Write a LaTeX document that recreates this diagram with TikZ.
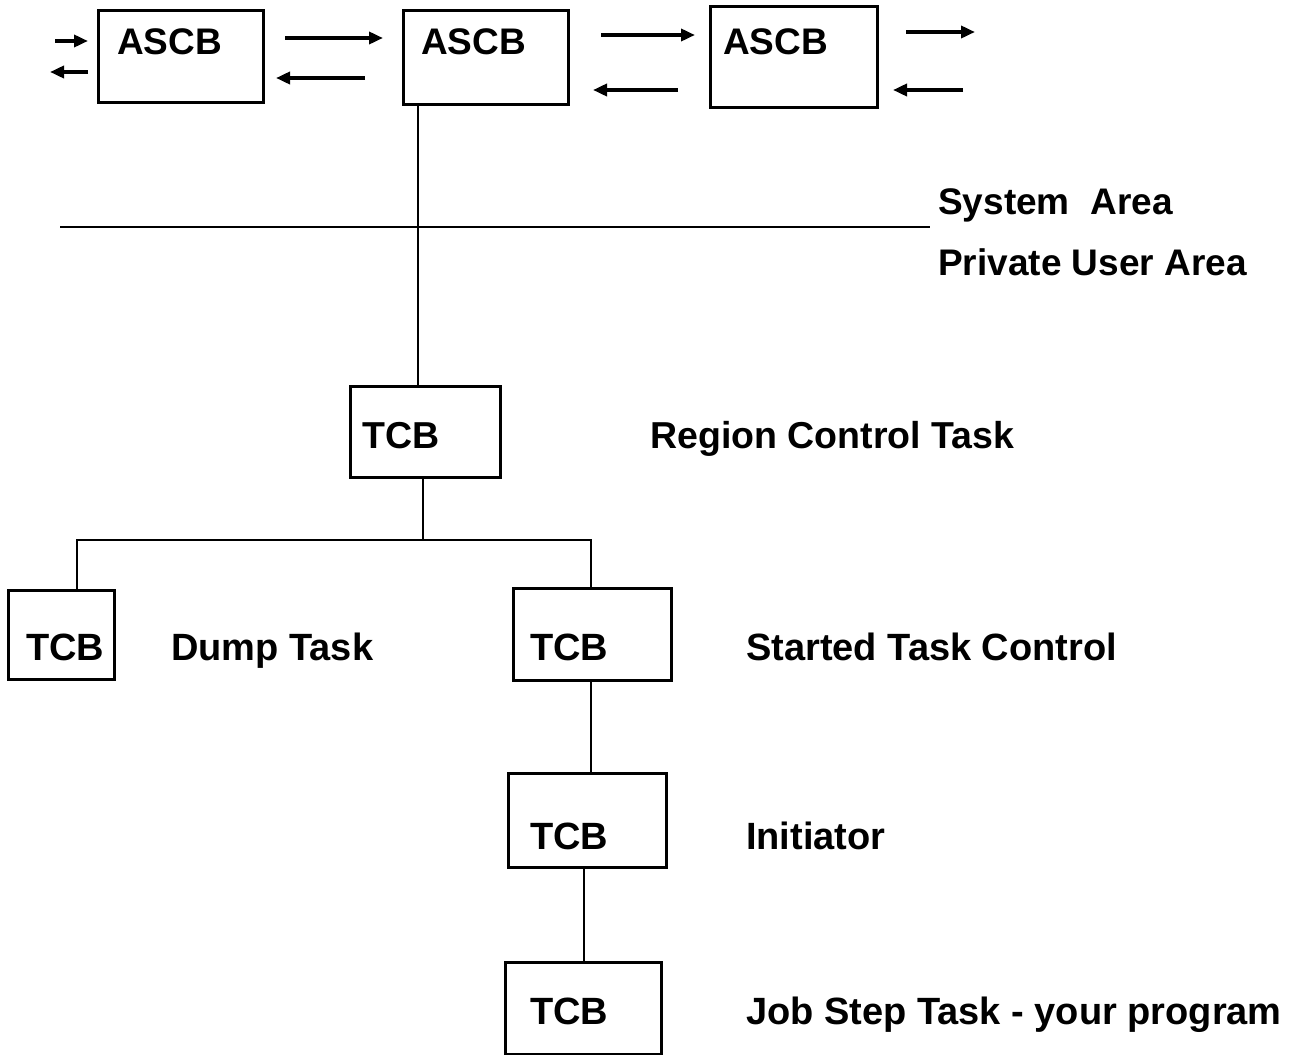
\documentclass[tikz,border=0pt]{standalone}
\usepackage{fontspec}
\setmainfont{Liberation Sans}
\usetikzlibrary{arrows.meta}
\tikzset{
  x=1pt, y=-1pt,
  box/.style={draw, line width=3pt, inner sep=0pt},
  lbl/.style={inner sep=0pt, anchor=base west, font=\fontsize{37}{40}\selectfont\bfseries},
  lblb/.style={lbl, font=\fontsize{38}{41}\selectfont\bfseries},
  conn/.style={line width=2pt},
  arr/.style={line width=3.6pt, -{Triangle[length=14pt, width=12pt]}},
}
\begin{document}
\begin{tikzpicture}
\useasboundingbox (0,0) rectangle (1299,1055);
% boxes
\node[box, minimum width=165, minimum height=92] (a1) at (180.5,56) {};
\node[box, minimum width=165, minimum height=94] (a2) at (485.5,57) {};
\node[box, minimum width=167, minimum height=101] (a3) at (793.5,56.5) {};
\node[box, minimum width=150, minimum height=91] (r) at (425,431.5) {};
\node[box, minimum width=106, minimum height=89] (d) at (61,634.5) {};
\node[box, minimum width=158, minimum height=92] (s) at (592,634) {};
\node[box, minimum width=158, minimum height=94] (i) at (587,820) {};
\node[box, minimum width=156, minimum height=92] (j) at (583,1008) {};
% labels
\node[lbl] (ta1) at (117,54) {ASCB};
\node[lbl] (ta2) at (421,54) {ASCB};
\node[lbl] (ta3) at (723,54) {ASCB};
\node[lbl] (sys) at (938,214) {System\ \ Area};
\node[lbl] (pua) at (938,275) {Private User Area};
\node[lbl, font=\fontsize{37.5}{40}\selectfont\bfseries] (tr) at (362,448) {TCB};
\node[lbl, font=\fontsize{37.5}{40}\selectfont\bfseries] (rct) at (650,448) {Region Control Task};
\node[lblb] (td) at (26,660) {TCB};
\node[lblb] (dt) at (171,660) {Dump Task};
\node[lblb] (ts) at (530,660) {TCB};
\node[lblb] (stc) at (746,660) {Started Task Control};
\node[lblb] (ti) at (530,849) {TCB};
\node[lblb] (ini) at (746,849) {Initiator};
\node[lblb] (tj) at (530,1024) {TCB};
\node[lblb] (jst) at (746,1024) {Job Step Task - your program};
% coordinates
\coordinate (v1) at (418,0);
\coordinate (v2) at (423,0);
\coordinate (bus) at (0,540);
\coordinate (bl) at (77,540);
\coordinate (br) at (591,540);
\coordinate (v3) at (591,0);
\coordinate (v4) at (584,0);
\coordinate (hl) at (60,227);
\coordinate (hr) at (930,227);
% connectors
\draw[conn] (hl) -- (hr);
\draw[conn] (a2.south -| v1) -- (r.north -| v1);
\draw[conn] (r.south -| v2) -- (bus -| v2);
\draw[conn] (d.north -| bl) -- (bl) -- (br) -- (s.north -| br);
\draw[conn] (s.south -| v3) -- (i.north -| v3);
\draw[conn] (i.south -| v4) -- (j.north -| v4);
% arrows
\coordinate (p1) at (55,41);  \coordinate (q1) at (88,41);
\coordinate (p2) at (88,72);  \coordinate (q2) at (50,72);
\coordinate (p3) at (285,38); \coordinate (q3) at (383,38);
\coordinate (p4) at (365,78); \coordinate (q4) at (276,78);
\coordinate (p5) at (601,35); \coordinate (q5) at (695,35);
\coordinate (p6) at (678,90); \coordinate (q6) at (593,90);
\coordinate (p7) at (906,32); \coordinate (q7) at (975,32);
\coordinate (p8) at (963,90); \coordinate (q8) at (893,90);
\foreach \k in {1,...,8} { \draw[arr] (p\k) -- (q\k); }
\end{tikzpicture}
\end{document}
